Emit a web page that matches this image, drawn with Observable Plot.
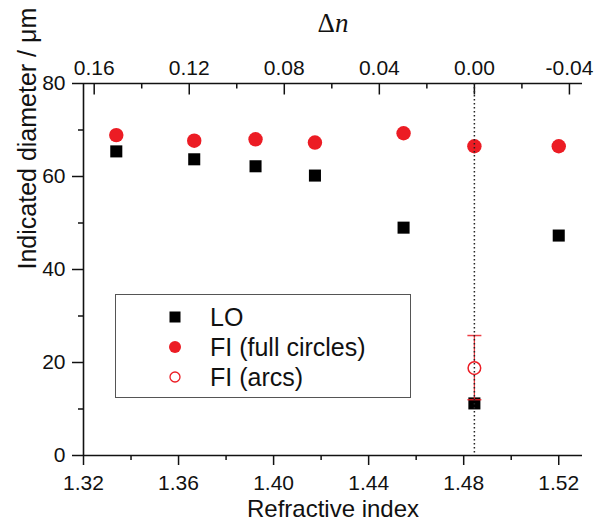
<!DOCTYPE html>
<html>
<head>
<meta charset="utf-8">
<script src="https://cdn.jsdelivr.net/npm/d3@7"></script>
<script src="https://cdn.jsdelivr.net/npm/@observablehq/plot@0.6"></script>
<style>
  html, body { margin: 0; padding: 0; background: #fff; }
  #wrap { position: relative; width: 594px; height: 529px; overflow: hidden; font-family: "Liberation Sans", Arial, sans-serif; }
  #legend { position: absolute; left: 115px; top: 294px; width: 294px; height: 102px; border: 1.5px solid #555; background: #fff; }
  .row { position: absolute; left: 0; height: 30px; display: flex; align-items: center; font-size: 25px; color: #111; }
  .row svg { position: absolute; left: 52px; }
  .row span { position: absolute; left: 94px; white-space: nowrap; }
</style>
</head>
<body>
<div id="wrap"></div>
<script>
// ---- data ----
const refractiveIndex = [1.3338, 1.3666, 1.3924, 1.4174, 1.4547, 1.4845, 1.52];
const loDiameter      = [65.4, 63.7, 62.2, 60.2, 49.0, 11.2, 47.3];
const fiFullDiameter  = [68.9, 67.7, 68.0, 67.3, 69.3, 66.5, 66.5];
const arcIndex        = [1.4845];
const arcDiameter     = [18.8];
const arcLow          = [12.0];
const arcHigh         = [25.8];
const nParticle       = 1.4845;           // Δn = 0
const xTicks          = [1.32, 1.36, 1.40, 1.44, 1.48, 1.52];
const xMinor          = [1.34, 1.38, 1.42, 1.46, 1.50];
const yTicks          = [0, 20, 40, 60, 80];
const yMinor          = [10, 30, 50, 70];
const dnTicks         = [0.16, 0.12, 0.08, 0.04, 0.00, -0.04];
const dnTickLabels    = ["0.16", "0.12", "0.08", "0.04", "0.00", "-0.04"];
const dnMinor         = [0.14, 0.10, 0.06, 0.02, -0.02];
const seriesNames     = ["LO", "FI (full circles)", "FI (arcs)"];

const RED = "#ec1c24";

const lo = refractiveIndex.map((n, i) => ({n, d: loDiameter[i]}));
const fi = refractiveIndex.map((n, i) => ({n, d: fiFullDiameter[i]}));
const arcs = arcIndex.map((n, i) => ({n, d: arcDiameter[i], lo: arcLow[i], hi: arcHigh[i]}));
const dnMajor = dnTicks.map((dn, i) => ({n: nParticle - dn, label: dnTickLabels[i]}));
const dnMin = dnMinor.map(dn => ({n: nParticle - dn}));

// custom line symbols (for inward top ticks and error-bar caps)
const downTick = len => ({draw(ctx) { ctx.moveTo(0, 0); ctx.lineTo(0, len); }});
const hCap = len => ({draw(ctx) { ctx.moveTo(-len / 2, 0); ctx.lineTo(len / 2, 0); }});

const chart = Plot.plot({
  width: 594,
  height: 529,
  marginLeft: 83,
  marginRight: 12,
  marginTop: 83,
  marginBottom: 74,
  style: {fontFamily: "Liberation Sans, Arial, sans-serif", fontSize: "21px", color: "#111", background: "#fff", overflow: "visible"},
  x: {domain: [1.32, 1.53]},
  y: {domain: [0, 80]},
  marks: [
    // axis lines
    Plot.ruleY([0], {stroke: "#111", strokeWidth: 1.6}),
    Plot.ruleY([80], {stroke: "#111", strokeWidth: 1.6}),
    Plot.ruleX([1.32], {stroke: "#111", strokeWidth: 1.6}),
    // bottom axis
    Plot.axisX({anchor: "bottom", ticks: xTicks, tickSize: 10, tickPadding: 10, tickFormat: d3.format(".2f"), strokeWidth: 1.5, fontSize: 21, label: null}),
    Plot.axisX({anchor: "bottom", ticks: xMinor, tickSize: 5, tickFormat: () => "", strokeWidth: 1.5, label: null}),
    // left axis
    Plot.axisY({anchor: "left", ticks: yTicks, tickSize: 11, tickPadding: 7, strokeWidth: 1.5, fontSize: 21, label: null}),
    Plot.axisY({anchor: "left", ticks: yMinor, tickSize: 5, tickFormat: () => "", strokeWidth: 1.5, label: null}),
    // top axis (Δn) : inward ticks + labels
    Plot.dot(dnMajor, {x: "n", frameAnchor: "top", symbol: downTick(11), r: 1, stroke: "#111", strokeWidth: 1.5, fill: "none"}),
    Plot.dot(dnMin, {x: "n", frameAnchor: "top", symbol: downTick(5), r: 1, stroke: "#111", strokeWidth: 1.5, fill: "none"}),
    Plot.text(dnMajor, {x: "n", frameAnchor: "top", text: "label", dy: -23, fontSize: 21, fill: "#111"}),
    // axis titles
    Plot.text(["Refractive index"], {frameAnchor: "bottom", dy: 61, fontSize: 24, fill: "#111"}),
    Plot.text(["Indicated diameter / μm"], {frameAnchor: "left", dx: -56, rotate: -90, fontSize: 25, fill: "#111"}),
    // data
    Plot.dot(fi, {x: "n", y: "d", r: 7.2, fill: RED, symbol: "circle"}),
    Plot.dot(lo, {x: "n", y: "d", r: 6.8, fill: "#000", symbol: "square"}),
    Plot.ruleX(arcs, {x: "n", y1: "lo", y2: "hi", stroke: RED, strokeWidth: 1.3, strokeOpacity: 0.85}),
    Plot.dot(arcs, {x: "n", y: "hi", symbol: hCap(14), r: 1, stroke: RED, strokeWidth: 1.5, strokeOpacity: 0.85}),
    Plot.dot(arcs, {x: "n", y: "lo", symbol: hCap(14), r: 1, stroke: RED, strokeWidth: 1.5, strokeOpacity: 0.85}),
    Plot.dot(arcs, {x: "n", y: "d", r: 6.3, fill: "#fff", stroke: RED, strokeWidth: 1.5}),
    // Δn = 0 dotted line
    Plot.ruleX([nParticle], {stroke: "#222", strokeWidth: 1.5, strokeDasharray: "1.5,2.5"})
  ]
});

const wrap = document.getElementById("wrap");
wrap.appendChild(chart);

// Δn title (Δ upright, n italic)
const svg = d3.select(chart);
const t = svg.append("text")
  .attr("x", 333).attr("y", 32)
  .attr("text-anchor", "middle")
  .attr("font-family", "Liberation Serif, Times New Roman, serif")
  .attr("font-size", 27)
  .attr("fill", "#111");
t.append("tspan").text("Δ");
t.append("tspan").attr("font-style", "italic").text("n");

// legend
const legend = document.createElement("div");
legend.id = "legend";
const symbols = [
  `<svg width="14" height="14"><rect x="1.5" y="1.5" width="11" height="11" fill="#000"/></svg>`,
  `<svg width="14" height="14"><circle cx="7" cy="7" r="6" fill="${RED}"/></svg>`,
  `<svg width="14" height="14"><circle cx="7" cy="7" r="5" fill="#fff" stroke="${RED}" stroke-width="1.3"/></svg>`
];
seriesNames.forEach((name, i) => {
  const row = document.createElement("div");
  row.className = "row";
  row.style.top = (7 + i * 30) + "px";
  row.innerHTML = symbols[i] + `<span>${name}</span>`;
  legend.appendChild(row);
});
wrap.appendChild(legend);
</script>
</body>
</html>
